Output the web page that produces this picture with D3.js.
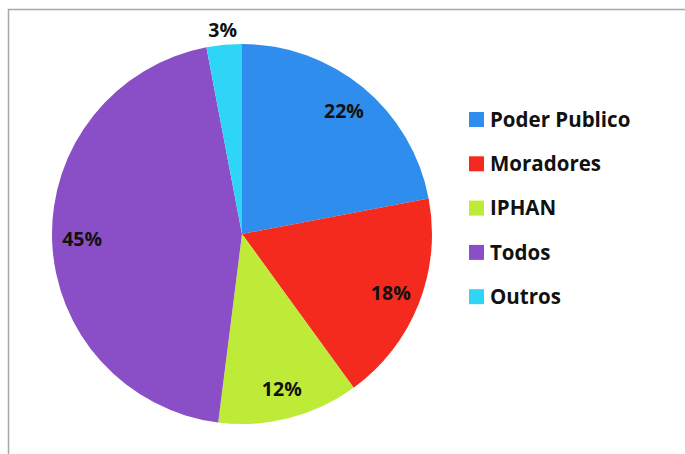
<!DOCTYPE html>
<html>
<head>
<meta charset="utf-8">
<script src="https://cdn.jsdelivr.net/npm/d3@7"></script>
<style>
  body { margin: 0; background: #fff; }
  svg { display: block; }
</style>
</head>
<body>
<div class="pie-chart"></div>
<script>
// Chart data
const categories = ["Poder Publico", "Moradores", "IPHAN", "Todos", "Outros"];
const values = [22, 18, 12, 45, 3];
const colors = ["#2e8ded", "#f42a1f", "#bdeb37", "#8a4fc7", "#2fd5f6"];

const width = 685;
const height = 454;
const cx = 242, cy = 234, radius = 190;

const svg = d3.select(".pie-chart")
    .append("svg")
    .attr("width", width)
    .attr("height", height);

// Frame (top and left edges visible)
svg.append("path")
    .attr("d", `M8.5,${height} V9.5 H${width}`)
    .attr("fill", "none")
    .attr("stroke", "#a8a8a8")
    .attr("stroke-width", 1.5);

const color = d3.scaleOrdinal().domain(categories).range(colors);

const pie = d3.pie().sort(null).value(d => d.value);
const data = categories.map((name, i) => ({ name, value: values[i] }));
const arcs = pie(data);

const arc = d3.arc().innerRadius(0).outerRadius(radius);
const labelArc = d3.arc().innerRadius(160).outerRadius(160);
const outerArc = d3.arc().innerRadius(205).outerRadius(205);

const g = svg.append("g").attr("transform", `translate(${cx},${cy})`);

g.selectAll("path")
    .data(arcs)
    .enter()
    .append("path")
    .attr("d", arc)
    .attr("fill", d => color(d.data.name));

// Percentage labels, small slices go outside
g.selectAll("text")
    .data(arcs)
    .enter()
    .append("text")
    .attr("transform", d => {
        const p = d.data.value < 5 ? outerArc.centroid(d) : labelArc.centroid(d);
        return `translate(${p})`;
    })
    .attr("text-anchor", "middle")
    .attr("dy", "0.35em")
    .style("font-family", "'Open Sans', sans-serif")
    .style("font-weight", "bold")
    .style("font-size", "19.5px")
    .style("fill", "#111")
    .text(d => d.data.value + "%");

// Legend
const legend = svg.append("g").attr("transform", "translate(469,112)");

const item = legend.selectAll("g")
    .data(categories)
    .enter()
    .append("g")
    .attr("transform", (d, i) => `translate(0,${i * 44.3})`);

item.append("rect")
    .attr("width", 15)
    .attr("height", 15)
    .attr("fill", d => color(d));

item.append("text")
    .attr("x", 21)
    .attr("y", 7.5)
    .attr("dy", "0.35em")
    .style("font-family", "'Open Sans', sans-serif")
    .style("font-weight", "bold")
    .style("font-size", "20.5px")
    .style("fill", "#111")
    .text(d => d);
</script>
</body>
</html>
